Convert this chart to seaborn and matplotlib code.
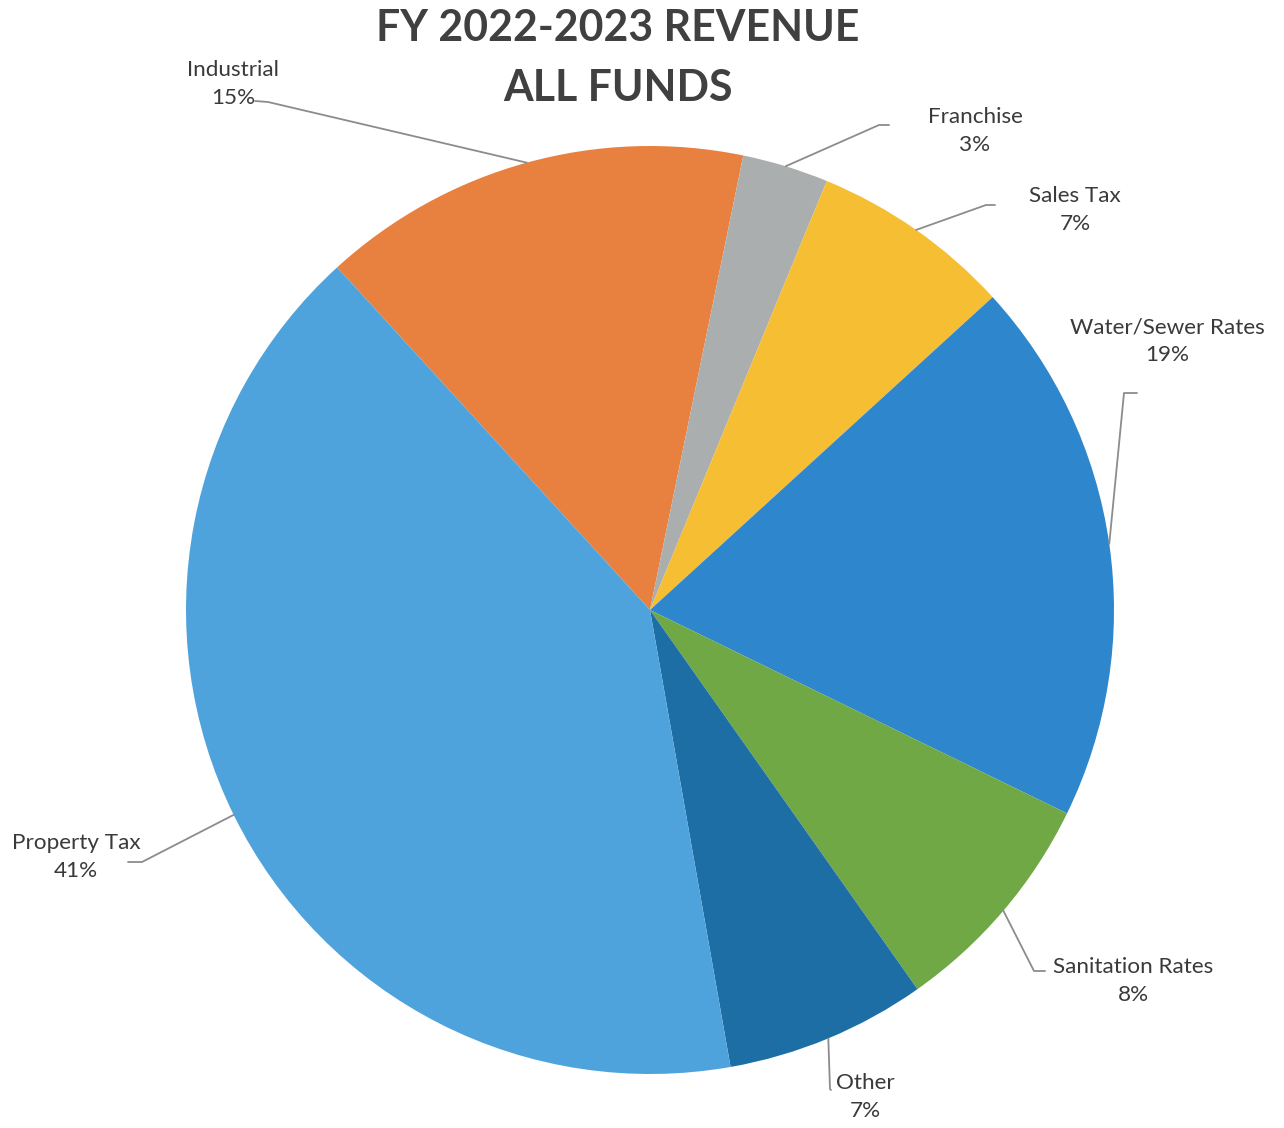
import matplotlib
matplotlib.use("Agg")
import matplotlib.pyplot as plt
import numpy as np
import seaborn as sns

sns.set_theme(style="white")
plt.rcParams["font.family"] = ["Lato", "DejaVu Sans"]

# Revenue shares by source (percent), listed clockwise from Industrial
categories = ["Industrial", "Franchise", "Sales Tax", "Water/Sewer Rates",
              "Sanitation Rates", "Other", "Property Tax"]
shares = [15, 3, 7, 19, 8, 7, 41]
colors = ["#E8813F", "#ABAEAE", "#F5BE33", "#2E86CC",
          "#6FA845", "#1E6EA6", "#4FA3DC"]

title_text = "FY 2022-2023 REVENUE\nALL FUNDS"

W, H = 1284, 1128
CX, CY, R = 650, 610, 464

# Label centres and leader-line start/elbow, in figure pixels
label_px = {
    "Industrial":        (233, 84),
    "Franchise":         (975, 131),
    "Sales Tax":         (1075, 210),
    "Water/Sewer Rates": (1167, 341),
    "Sanitation Rates":  (1133, 981),
    "Other":             (865, 1097),
    "Property Tax":      (76, 857),
}
leader_px = {
    "Industrial":        [(255, 101), (268, 102)],
    "Franchise":         [(889, 125), (879, 125)],
    "Sales Tax":         [(995, 205), (986, 205)],
    "Water/Sewer Rates": [(1137, 393), (1124, 393)],
    "Sanitation Rates":  [(1045, 971), (1034, 971)],
    "Other":             [(831, 1090), (830, 1089)],
    "Property Tax":      [(128, 862), (142, 862)],
}

fig = plt.figure(figsize=(W / 100, H / 100), dpi=100)
ax = fig.add_axes([(CX - R) / W, (H - CY - R) / H, 2 * R / W, 2 * R / H])

# start angle: Industrial begins at compass bearing ~317.6 deg
wedges, _ = ax.pie(shares, colors=colors, startangle=90 - 317.6 + 360,
                   counterclock=False, radius=1,
                   wedgeprops=dict(linewidth=0, antialiased=True))
ax.set_xlim(-1, 1)
ax.set_ylim(-1, 1)
ax.set_aspect("equal")
ax.axis("off")


def px_to_data(p):
    return ((p[0] - CX) / R, (CY - p[1]) / R)


text_color = "#3A3A3A"
for w, name, val in zip(wedges, categories, shares):
    mid = np.deg2rad((w.theta1 + w.theta2) / 2)
    edge = (np.cos(mid), np.sin(mid))
    p0, p1 = [px_to_data(p) for p in leader_px[name]]
    ax.plot([p0[0], p1[0], edge[0]], [p0[1], p1[1], edge[1]],
            color="#8C8C8C", lw=1.3, clip_on=False, zorder=1)
    x, y = px_to_data(label_px[name])
    ax.text(x, y, f"{name}\n{val}%", ha="center", va="center",
            fontsize=16.2, color=text_color, linespacing=1.5, clip_on=False)

fig.text(618 / W, 1 - 58 / H, title_text, ha="center", va="center",
         fontsize=30.8, fontweight="bold", color="#404040", linespacing=1.62)

fig.savefig("out.png", dpi=100, facecolor="white")
